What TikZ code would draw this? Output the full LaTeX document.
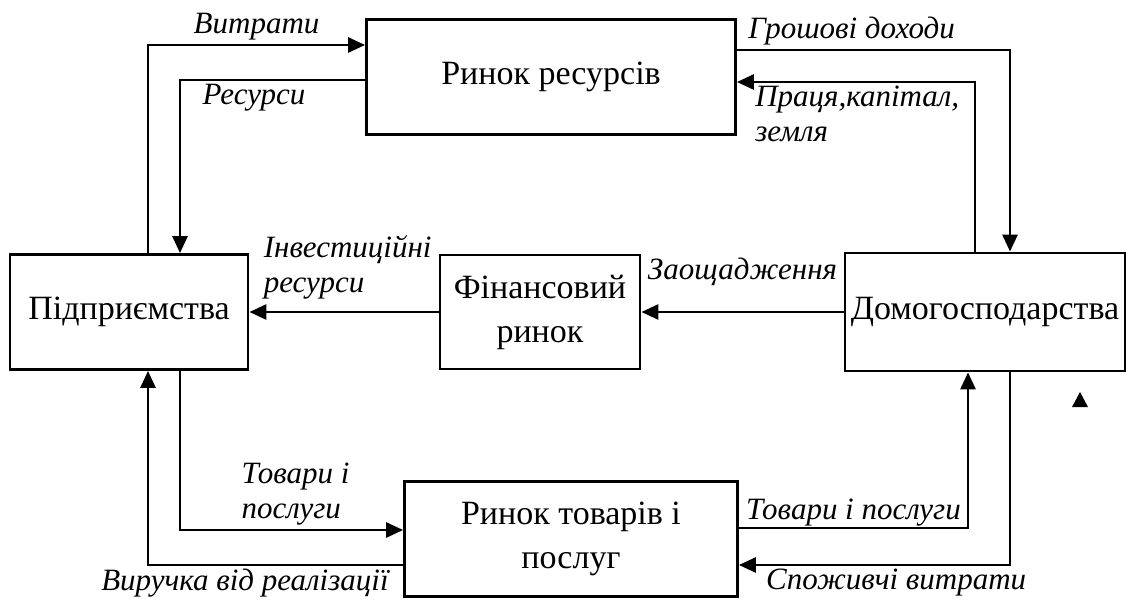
\documentclass[tikz,border=0pt]{standalone}
\usepackage{fontspec}
\setmainfont{Liberation Serif}
\usetikzlibrary{positioning}
\usetikzlibrary{arrows.meta,calc}

\begin{document}
\begin{tikzpicture}[x=1pt,y=-1pt,node distance=411pt,on grid,
    block/.style={draw,line width=2.8pt,align=center,inner sep=0pt,
        font=\fontsize{34}{44}\selectfont},
    lbl/.style={font=\fontsize{31}{35}\selectfont\itshape,inner sep=3pt},
    flow/.style={line width=2.8pt,-{Triangle[length=17pt,width=15pt]}}]
    \useasboundingbox (0,0) rectangle (1131,604);

    \node[block,minimum width=238pt,minimum height=115pt] (firms) at (129,312) {Підприємства};
    \node[block,minimum width=200pt,minimum height=114pt] (fin) [right=of firms] {Фінансовий\\ринок};
    \node[block,minimum width=280pt,minimum height=118pt] (house) [right=445pt of fin] {Домогосподарства};
    \node[block,minimum width=369pt,minimum height=115pt] (res) at (551,77) {Ринок ресурсів};
    \node[block,minimum width=333pt,minimum height=115pt] (goods) at (571,539) {Ринок товарів і\\послуг};

    \draw[flow] ([xshift=19pt]firms.north) |- node[lbl,pos=0.75,above]{Витрати} ([yshift=32pt]res.west);
    \draw[flow] ([yshift=-3pt]res.west) -| node[lbl,pos=0.3,below]{Ресурси} ([xshift=51pt]firms.north);
    \draw[flow] ([yshift=27pt]res.east) -| node[lbl,pos=0.21,above]{Грошові доходи} ([xshift=25pt]house.north);
    \draw[flow] ([xshift=-10pt]house.north) |- node[lbl,pos=1,below right,xshift=14pt,align=left]{Праця,капітал,\\земля} ([yshift=-5pt]res.east);
    \draw[flow] (house.west) -- node[lbl,pos=0.5,above,yshift=22pt]{Заощадження} (fin.east);
    \draw[flow] (fin.west) -- node[lbl,pos=1,above right,xshift=10pt,yshift=8pt,align=left]{Інвестиційні\\ресурси} (firms.east);
    \draw[flow] ([xshift=51pt]firms.south) |- node[lbl,pos=0.75,above,xshift=4pt,align=left]{Товари і\\послуги} ([yshift=9pt]goods.west);
    \draw[flow] ([yshift=-26pt]goods.west) -| node[lbl,pos=0.31,below]{Виручка від реалізації} ([xshift=19pt]firms.south);
    \draw[flow] ([yshift=11pt]goods.east) -| node[lbl,pos=0.25,above,yshift=-3pt]{Товари і послуги} ([xshift=-17pt]house.south);
    \draw[flow] ([xshift=25pt]house.south) |- node[lbl,pos=0.71,below]{Споживчі витрати} ([yshift=-26pt]goods.east);

    \fill (1072,407) -- (1088,407) -- (1080,392) -- cycle;
\end{tikzpicture}
\end{document}
